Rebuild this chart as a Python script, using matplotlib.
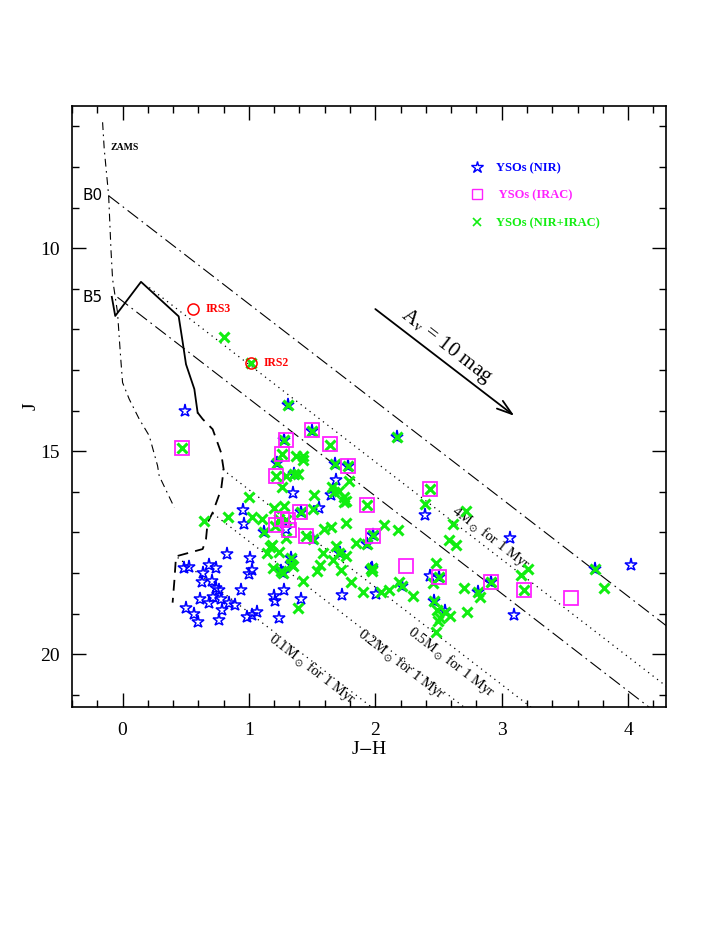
import numpy as np
import matplotlib
matplotlib.use("Agg")
import matplotlib.pyplot as plt
from matplotlib.ticker import MultipleLocator
from matplotlib.lines import Line2D

plt.rcParams['font.family'] = ['Liberation Serif', 'DejaVu Serif']
plt.rcParams['mathtext.fontset'] = 'stix'

# ── data (J-H, J) ─────────────────────────────────────────────────────────────
nir_jh = [0.497, 1.28, 1.22, 0.95, 0.964, 1.117, 1.497, 1.677, 1.782, 1.36, 1.685,
          1.347, 1.65, 1.558, 1.41, 1.98, 1.505, 1.933, 0.827, 1.009, 1.255, 1.273,
          0.489, 0.528, 0.634, 0.687, 0.74, 1.025, 1.0, 0.629, 0.705, 0.74, 0.766,
          0.938, 1.28, 1.196, 1.207, 0.613, 0.713, 0.779, 0.681, 0.845, 0.893, 0.502,
          0.787, 0.568, 0.594, 0.76, 0.982, 1.025, 1.065, 1.236, 1.722, 1.334, 1.334,
          1.967, 2.21, 2.007, 1.738, 1.413, 2.17, 2.39, 3.063, 3.736, 4.019, 2.912,
          2.81, 3.097, 1.975, 2.50, 2.43, 2.461, 2.548, 1.307, 1.29]
nir_j = [14.01, 14.72, 15.30, 16.44, 16.80, 17.00, 14.50, 15.32, 15.36, 15.57, 15.71,
         16.03, 16.08, 16.41, 16.49, 17.07, 17.17, 17.29, 17.53, 17.64, 17.95, 17.99,
         17.88, 17.86, 17.99, 17.81, 17.88, 17.92, 18.03, 18.23, 18.19, 18.37, 18.42,
         18.42, 18.42, 18.56, 18.69, 18.63, 18.58, 18.63, 18.74, 18.73, 18.79, 18.85,
         18.91, 19.01, 19.20, 19.15, 19.08, 19.04, 18.96, 19.12, 17.50, 17.64, 17.78,
         17.91, 18.32, 18.52, 18.55, 18.65, 14.66, 16.58, 17.13, 17.89, 17.81, 18.23,
         18.48, 19.03, 17.87, 18.09, 18.07, 18.69, 18.93, 13.87, 16.92]

irac_jh = [0.467, 1.29, 1.26, 1.215, 1.497, 1.643, 1.782, 1.933, 1.405, 1.453, 1.98,
           1.215, 1.26, 1.307, 1.315, 2.43, 2.239, 2.50, 2.912, 3.174, 3.546]
irac_j = [14.93, 14.72, 15.06, 15.61, 14.48, 14.83, 15.36, 16.32, 16.51, 17.08, 17.08,
          16.82, 16.67, 16.69, 16.94, 15.92, 17.82, 18.09, 18.23, 18.42, 18.61]

both_jh = [0.80, 1.017, 1.307, 0.467, 1.28, 1.26, 1.22, 1.215, 1.29, 1.26, 1.0, 1.28,
           1.196, 0.837, 0.647, 1.025, 1.10, 1.24, 1.29, 1.21, 1.117, 1.29, 1.18,
           1.497, 1.643, 1.373, 1.43, 1.43, 1.677, 1.782, 1.36, 1.386, 1.79, 1.518,
           1.658, 1.67, 1.716, 1.756, 1.77, 1.75, 1.935, 1.41, 1.505, 1.77, 1.65, 1.59,
           2.07, 2.18, 1.98, 1.453, 1.505, 1.85, 1.933, 1.685, 1.167, 1.14, 1.236, 1.19,
           1.255, 1.273, 1.584, 1.711, 1.764, 1.669, 1.334, 1.334, 1.967, 1.73, 1.563,
           1.537, 1.347, 1.43, 1.81, 2.19, 2.21, 1.90, 2.047, 2.107, 1.39, 2.17, 2.43,
           2.395, 2.72, 2.614, 2.58, 2.64, 3.208, 3.15, 3.736, 3.81, 3.174, 2.912, 2.81,
           2.825, 2.70, 2.728, 1.975, 1.975, 2.50, 2.48, 2.455, 2.297, 2.461, 2.487,
           2.548, 2.588, 2.508, 2.495, 2.482]
both_j = [12.18, 12.83, 13.87, 14.93, 14.72, 15.07, 15.30, 15.62, 15.62, 15.88, 16.12,
          16.35, 16.39, 16.61, 16.72, 16.62, 16.67, 16.67, 16.70, 16.84, 17.00, 17.15,
          17.32, 14.50, 14.85, 15.13, 15.12, 15.21, 15.32, 15.36, 15.57, 15.57, 15.73,
          16.08, 15.89, 16.00, 15.98, 16.14, 16.22, 16.24, 16.33, 16.49, 16.43, 16.76,
          16.86, 16.92, 16.82, 16.95, 17.07, 17.09, 17.17, 17.27, 17.29, 17.33, 17.37,
          17.51, 17.48, 17.87, 17.95, 17.99, 17.51, 17.51, 17.58, 17.68, 17.64, 17.78,
          17.91, 17.92, 17.81, 17.96, 17.83, 18.19, 18.22, 18.22, 18.32, 18.48, 18.47,
          18.42, 18.87, 14.66, 15.92, 16.29, 16.47, 16.80, 17.18, 17.31, 17.91, 18.05,
          17.89, 18.36, 18.42, 18.23, 18.48, 18.60, 18.38, 18.97, 17.87, 17.95, 18.09,
          17.76, 18.25, 18.56, 18.69, 18.91, 18.97, 19.06, 19.10, 19.18, 19.45]

irs_names = ["IRS3", "IRS2"]
irs_jh = [0.56, 1.017]
irs_j = [11.49, 12.83]

# ZAMS and 1 Myr isochrone (solid: upper part, dashed: low-mass part)
zams_jh = [-0.158, -0.145, -0.11, -0.092, -0.079, -0.04, -0.018, 0.0, 0.053, 0.132,
           0.211, 0.277, 0.29, 0.41]
zams_j = [6.90, 7.56, 8.71, 10.02, 10.76, 11.58, 12.57, 13.31, 13.72, 14.21, 14.62,
          15.36, 15.61, 16.39]
iso_jh = [-0.085, -0.058, 0.146, 0.444, 0.475, 0.502, 0.568, 0.594]
iso_j = [11.20, 11.67, 10.83, 11.68, 12.30, 12.86, 13.47, 14.05]
iso_low_jh = [0.594, 0.634, 0.713, 0.779, 0.80, 0.78, 0.713, 0.673, 0.66, 0.634, 0.423,
              0.41, 0.396]
iso_low_j = [14.05, 14.21, 14.46, 15.03, 15.45, 15.94, 16.51, 16.76, 17.17, 17.41,
             17.59, 18.19, 18.73]

# reddening vectors: start points (J-H, J) and slope dJ/d(J-H)
RED_SLOPE = 2.40
ms_starts = {"B0": (-0.11, 8.71), "B5": (-0.04, 11.21)}
mass_names = ["4", "0.5", "0.2", "0.1"]
mass_starts = [(0.211, 10.97), (0.792, 15.45), (0.713, 16.53), (0.436, 17.62)]
mass_label_pos = [(2.913, 17.14), (2.60, 20.20), (2.205, 20.25), (1.50, 20.37)]

av_start = (2.0, 11.50)
av_end = (3.10, 14.13)

# ── figure ────────────────────────────────────────────────────────────────────
fig = plt.figure(figsize=(7.08, 9.26), dpi=100)
ax = fig.add_axes([0.1017, 0.2365, 0.8390, 0.6490])
ax.set_xlim(-0.4, 4.3)
ax.set_ylim(21.3, 6.5)


def red_line(start, x_end=5.0):
    x0, y0 = start
    return [x0, x_end], [y0, y0 + RED_SLOPE * (x_end - x0)]


# main-sequence reddening lines (dash-dot)
for name, st in ms_starts.items():
    xs, ys = red_line(st)
    ax.plot(xs, ys, color="k", lw=0.8, ls=(0, (12, 4, 1.5, 4)))
    ax.text(-0.317, st[1], name, family="DejaVu Sans", fontsize=11,
            ha="left", va="center")

# PMS reddening lines (dotted)
for st in mass_starts:
    xs, ys = red_line(st)
    ax.plot(xs, ys, color="k", lw=0.9, ls=(0, (1, 3.5)))

ax.plot(zams_jh, zams_j, color="k", lw=0.8, ls=(0, (7, 4, 1.5, 4)))
ax.plot(iso_jh, iso_j, color="k", lw=1.3)
ax.plot(iso_low_jh, iso_low_j, color="k", lw=1.3, ls=(0, (6, 4)))
ax.text(-0.092, 7.52, "ZAMS", fontsize=7, weight="bold", ha="left", va="center")

# angle of reddening vector on screen
p1 = ax.transData.transform((0, 10))
p2 = ax.transData.transform((1, 10 + RED_SLOPE))
ang = np.degrees(np.arctan2(p2[1] - p1[1], p2[0] - p1[0]))

for name, (lx, ly) in zip(mass_names, mass_label_pos):
    ax.text(lx, ly, f"{name}M$_\\odot$ for 1 Myr", fontsize=10.5, rotation=ang,
            rotation_mode="anchor", ha="center", va="center")

ax.annotate("", xy=av_end, xytext=av_start,
            arrowprops=dict(arrowstyle="->,head_length=1.1,head_width=0.35",
                            lw=1.3, color="k", shrinkA=0, shrinkB=0))
ax.text(2.56, 12.41, "A$_{\\rm v}$ = 10 mag", fontsize=15, rotation=ang,
        rotation_mode="anchor", ha="center", va="center")

# points
ax.plot(nir_jh, nir_j, ls="none", marker="*", ms=9.5, mfc="none", mec="#0000ff",
        mew=1.1, zorder=3)
ax.plot(both_jh, both_j, ls="none", marker="x", ms=7, mec="#11ee11", mew=2.2,
        zorder=4)
ax.plot(irac_jh, irac_j, ls="none", marker="s", ms=9.5, mfc="none", mec="#ff22ff",
        mew=1.3, zorder=5)
ax.plot(irs_jh, irs_j, ls="none", marker="o", ms=8, mfc="none", mec="#ff0000",
        mew=1.1, zorder=6)
for name, x, y in zip(irs_names, irs_jh, irs_j):
    ax.text(x + 0.1, y, name, color="#ff0000", fontsize=8.5, weight="bold",
            ha="left", va="center")

# legend
handles = [
    Line2D([], [], ls="none", marker="*", ms=9, mfc="none", mec="#0000ff", mew=1.0),
    Line2D([], [], ls="none", marker="s", ms=7, mfc="none", mec="#ff22ff", mew=1.0),
    Line2D([], [], ls="none", marker="x", ms=6, mec="#11ee11", mew=1.2),
]
labels = ["YSOs (NIR)", " YSOs (IRAC)", "YSOs (NIR+IRAC)"]
ax.legend(handles, labels, loc="upper left", bbox_to_anchor=(0.672, 0.907),
          frameon=False, labelcolor="markeredgecolor", borderaxespad=0,
          borderpad=0, handlelength=1.0, handletextpad=1.0, labelspacing=1.25,
          prop=dict(size=9, weight="bold"))

# axes
ax.xaxis.set_major_locator(MultipleLocator(1))
ax.xaxis.set_minor_locator(MultipleLocator(0.2))
ax.yaxis.set_major_locator(MultipleLocator(5))
ax.yaxis.set_minor_locator(MultipleLocator(1))
ax.tick_params(which="both", direction="in", top=True, right=True, labelsize=14)
ax.tick_params(which="major", length=10, width=1.0)
ax.tick_params(axis="x", which="major", pad=11)
ax.tick_params(axis="y", which="major", pad=9)
ax.tick_params(which="minor", length=5, width=1.0)
for sp in ax.spines.values():
    sp.set_linewidth(1.2)
ax.set_xlabel("J$-$H", fontsize=14, labelpad=1)
ax.set_ylabel("J", fontsize=14, labelpad=0)

fig.savefig("out.png", dpi=100)
